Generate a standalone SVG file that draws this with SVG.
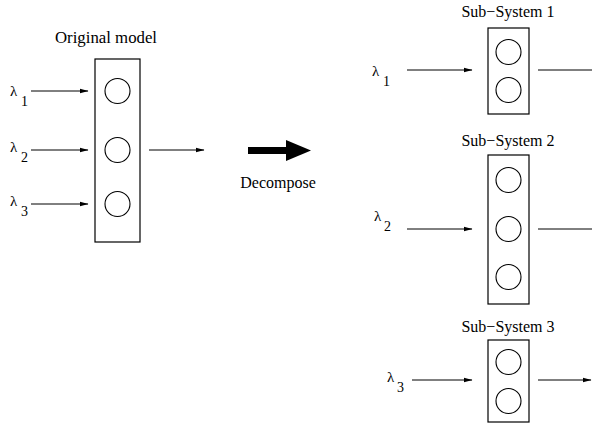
<svg xmlns="http://www.w3.org/2000/svg" width="592" height="426" viewBox="0 0 592 426">
<style>
.box{fill:none;stroke:#000;stroke-width:1.2}
.c{fill:none;stroke:#000;stroke-width:1.1}
.ln{stroke:#000;stroke-width:1;fill:none}
.t{font-family:"Liberation Serif","Times New Roman",serif;font-size:16px;fill:#000}
.l{font-family:"Liberation Serif","Times New Roman",serif;font-size:15px;fill:#000}
.s{font-family:"Liberation Serif","Times New Roman",serif;font-size:14px;fill:#000}
</style>
<defs>
<marker id="ah" markerWidth="9" markerHeight="6" refX="8.5" refY="3" orient="auto" markerUnits="userSpaceOnUse">
<path d="M0,0.6 L9,3 L0,5.4 Z" fill="#000"/>
</marker>
</defs>
<rect width="592" height="426" fill="#fff"/>

<g id="original">
<text class="t" x="106" y="43" text-anchor="middle" style="font-size:16.8px">Original model</text>
<rect class="box" x="95" y="59" width="45" height="183"/>
<circle class="c" cx="117.5" cy="91" r="12.5"/>
<circle class="c" cx="117.5" cy="150" r="12.5"/>
<circle class="c" cx="117.5" cy="204" r="12.5"/>
</g>

<g id="lambda-in">
<text class="l" x="10" y="96">λ</text><text class="s" x="21" y="106">1</text>
<text class="l" x="10" y="152">λ</text><text class="s" x="21" y="162">2</text>
<text class="l" x="10" y="206">λ</text><text class="s" x="21" y="216">3</text>
</g>

<g id="decompose">
<rect x="248" y="147" width="39" height="7" fill="#000"/>
<polygon points="286,140 311,150.5 286,161" fill="#000"/>
<text class="t" x="278" y="188" text-anchor="middle">Decompose</text>
</g>

<g id="subsystem1">
<text class="t" x="508" y="17" text-anchor="middle">Sub−System 1</text>
<rect class="box" x="488" y="28" width="41" height="86"/>
<circle class="c" cx="508.5" cy="52" r="12.5"/>
<circle class="c" cx="508.5" cy="90" r="12.5"/>
<text class="l" x="372" y="76">λ</text><text class="s" x="383" y="86">1</text>
</g>

<g id="subsystem2">
<text class="t" x="508" y="146" text-anchor="middle">Sub−System 2</text>
<rect class="box" x="488" y="155" width="41" height="149"/>
<circle class="c" cx="508.5" cy="180" r="12.5"/>
<circle class="c" cx="508.5" cy="229" r="12.5"/>
<circle class="c" cx="508.5" cy="277" r="12.5"/>
<text class="l" x="374" y="221">λ</text><text class="s" x="384" y="231">2</text>
</g>

<g id="subsystem3">
<text class="t" x="508" y="332" text-anchor="middle">Sub−System 3</text>
<rect class="box" x="488" y="340" width="41" height="82"/>
<circle class="c" cx="508.5" cy="362" r="12.5"/>
<circle class="c" cx="508.5" cy="401" r="12.5"/>
<text class="l" x="387" y="382">λ</text><text class="s" x="397" y="392">3</text>
</g>

<g id="connectors">
<line class="ln" x1="31" y1="91" x2="88" y2="91" marker-end="url(#ah)"/>
<line class="ln" x1="31" y1="150" x2="88" y2="150" marker-end="url(#ah)"/>
<line class="ln" x1="31" y1="204" x2="88" y2="204" marker-end="url(#ah)"/>
<line class="ln" x1="149" y1="150" x2="204" y2="150" marker-end="url(#ah)"/>
<line class="ln" x1="407" y1="70" x2="472" y2="70" marker-end="url(#ah)"/>
<line class="ln" x1="538" y1="70" x2="592" y2="70"/>
<line class="ln" x1="407" y1="229" x2="472" y2="229" marker-end="url(#ah)"/>
<line class="ln" x1="538" y1="229" x2="592" y2="229"/>
<line class="ln" x1="412" y1="380" x2="472" y2="380" marker-end="url(#ah)"/>
<line class="ln" x1="538" y1="380" x2="591" y2="380" marker-end="url(#ah)"/>
</g>
</svg>
